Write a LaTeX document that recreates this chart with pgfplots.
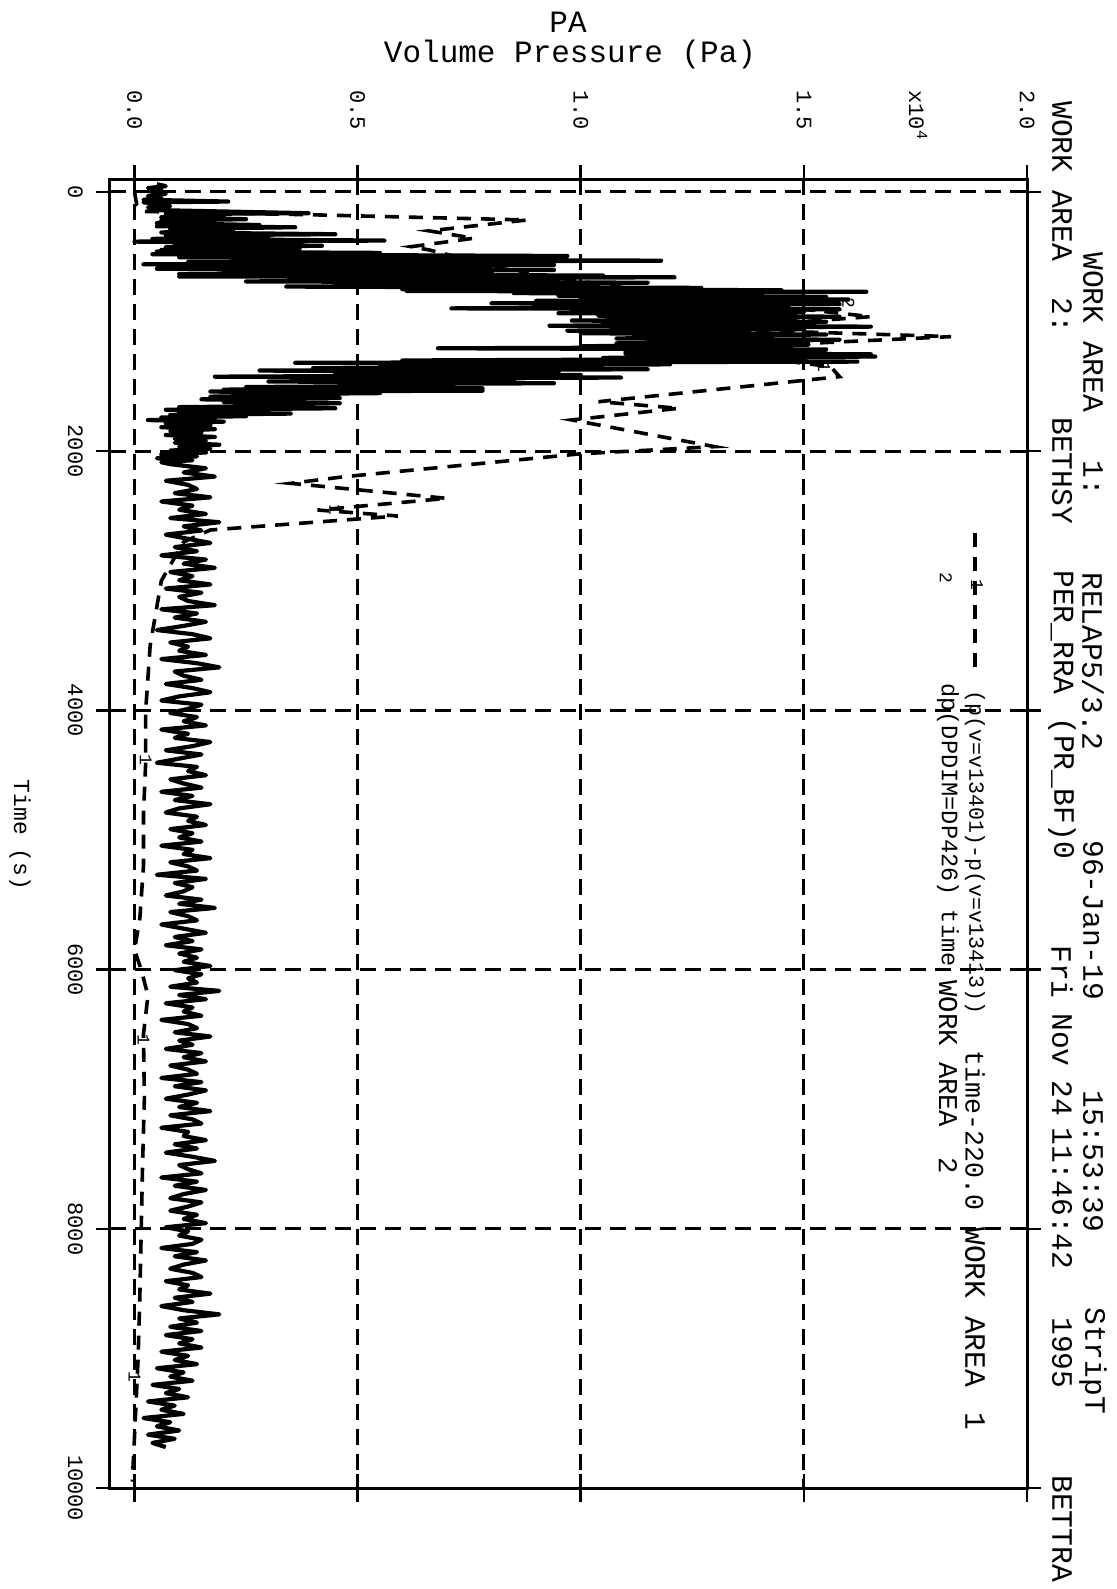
\documentclass[border=0pt]{standalone}
\usepackage{pgfplots}
\pgfplotsset{compat=1.18}
\usepackage{pgfplotstable}
\usepackage{fontspec}
\setmainfont{Liberation Mono}
\newcommand{\fs}[1]{\fontsize{#1}{#1}\selectfont}

% series 1: (p(v=v13401)-p(v=v13413)) time-220.0  (dashed)
\pgfplotstableread[row sep=\\]{
t p\\
0 0.00\\ 100 0.005\\ 150 0.02\\ 177 0.41\\ 216 0.88\\ 300 0.66\\ 357 0.76\\ 422 0.62\\ 447 0.66\\
550 0.78\\ 650 0.92\\ 750 1.12\\ 860 1.38\\ 962 1.65\\ 1000 1.50\\ 1065 1.36\\ 1116 1.83\\
1170 1.50\\ 1230 1.30\\ 1300 1.45\\ 1348 1.56\\ 1425 1.58\\ 1618 1.04\\ 1669 1.22\\ 1759 0.98\\
1965 1.30\\ 2020 1.00\\ 2197 0.47\\ 2248 0.35\\ 2364 0.70\\ 2454 0.41\\ 2500 0.59\\ 2608 0.17\\
2700 0.11\\ 3000 0.06\\ 3500 0.035\\ 4000 0.025\\ 4400 0.025\\ 4800 0.02\\ 5200 0.02\\ 5600 0.012\\
5850 0.0\\ 6000 0.015\\ 6200 0.03\\ 6500 0.02\\ 7000 0.022\\ 7500 0.018\\ 8000 0.015\\ 8500 0.012\\
9000 0.008\\ 9300 0.004\\ 9600 0.0\\ 9950 -0.005\\
}\seriesA

% series 2: dp(DPDIM=DP426) time  (solid)
\pgfplotstableread[row sep=\\]{
t p\\
-60 0.05\\ -45 0.07\\ -30 0.03\\ -15 0.06\\ 0 0.04\\ 15 0.07\\ 30 0.03\\ 45 0.06\\ 60 0.02\\ 74 0.21\\
80 0.02\\ 95 0.06\\ 110 0.08\\ 120 0.03\\ 140 0.05\\ 164 0.39\\ 170 0.07\\ 185 0.20\\ 195 0.06\\ 210 0.25\\
220 0.06\\ 229 0.18\\ 240 0.05\\ 255 0.28\\ 265 0.05\\ 272 0.36\\ 285 0.08\\ 300 0.22\\ 312 0.06\\ 326 0.45\\
335 0.07\\ 350 0.30\\ 362 0.04\\ 375 0.56\\ 383 0.00\\ 395 0.35\\ 405 0.09\\ 415 0.42\\ 427 0.07\\ 437 0.37\\
447 0.06\\ 455 0.22\\ 460 0.05\\ 470 0.55\\ 480 0.04\\ 494 0.97\\ 503 0.10\\ 512 0.75\\ 520 0.30\\ 530 1.18\\
540 0.12\\ 550 0.85\\ 558 0.02\\ 563 0.94\\ 572 0.15\\ 582 0.70\\ 592 0.05\\ 602 0.94\\ 612 0.20\\ 622 0.80\\
632 0.10\\ 645 1.05\\ 652 0.10\\ 658 1.21\\ 668 0.40\\ 680 0.95\\ 690 0.25\\ 700 1.15\\ 710 0.45\\ 720 1.00\\
730 0.34\\ 740 1.27\\ 750 0.60\\ 758 1.45\\ 764 0.61\\ 770 1.64\\ 780 0.85\\ 790 1.40\\ 800 0.95\\ 810 1.55\\
820 1.00\\ 830 1.60\\ 840 0.90\\ 850 1.50\\ 859 0.80\\ 865 1.58\\ 878 0.95\\ 888 1.45\\ 898 0.71\\ 905 1.58\\
915 1.05\\ 925 1.50\\ 935 0.95\\ 945 1.40\\ 955 1.04\\ 962 1.58\\ 972 1.10\\ 982 1.48\\ 992 0.98\\ 1002 1.55\\
1012 1.05\\ 1022 1.45\\ 1032 0.93\\ 1039 1.65\\ 1050 1.10\\ 1060 1.50\\ 1070 0.97\\ 1078 1.34\\ 1090 1.00\\ 1100 1.55\\
1110 1.12\\ 1120 1.40\\ 1130 1.08\\ 1140 1.58\\ 1150 1.15\\ 1160 1.45\\ 1168 1.08\\ 1178 1.51\\ 1190 1.00\\ 1198 1.40\\
1206 0.68\\ 1215 1.55\\ 1225 1.10\\ 1235 1.50\\ 1245 1.10\\ 1252 1.65\\ 1262 1.18\\ 1270 1.66\\ 1280 1.05\\ 1290 1.35\\
1300 0.60\\ 1309 1.62\\ 1318 0.36\\ 1330 1.20\\ 1340 0.55\\ 1350 1.00\\ 1360 0.40\\ 1368 1.15\\ 1378 0.28\\ 1390 0.95\\
1400 0.45\\ 1412 1.00\\ 1425 0.18\\ 1432 1.09\\ 1440 0.40\\ 1452 0.85\\ 1462 0.30\\ 1476 0.94\\ 1482 0.48\\ 1495 0.70\\
1505 0.25\\ 1515 0.78\\ 1525 0.20\\ 1533 0.78\\ 1540 0.17\\ 1552 0.55\\ 1562 0.22\\ 1570 0.45\\ 1579 0.17\\ 1590 0.46\\
1600 0.15\\ 1610 0.38\\ 1620 0.20\\ 1630 0.46\\ 1640 0.28\\ 1650 0.40\\ 1660 0.10\\ 1669 0.45\\ 1680 0.07\\ 1690 0.30\\
1700 0.10\\ 1710 0.35\\ 1720 0.08\\ 1730 0.25\\ 1740 0.06\\ 1750 0.18\\ 1760 0.03\\ 1772 0.20\\ 1785 0.07\\ 1800 0.17\\
1815 0.06\\ 1830 0.18\\ 1845 0.08\\ 1860 0.15\\ 1875 0.07\\ 1890 0.18\\ 1905 0.09\\ 1920 0.16\\ 1935 0.09\\ 1950 0.19\\
1965 0.10\\ 1980 0.17\\ 1995 0.08\\ 2010 0.16\\ 2025 0.06\\ 2040 0.14\\ 2055 0.05\\ 2070 0.13\\ 2085 0.06\\
2100 0.08\\ 2132 0.16\\ 2164 0.11\\ 2196 0.18\\ 2228 0.07\\ 2260 0.12\\ 2292 0.14\\ 2324 0.09\\ 2356 0.17\\ 2388 0.06\\
2420 0.13\\ 2452 0.10\\ 2484 0.16\\ 2516 0.08\\ 2548 0.19\\ 2580 0.11\\ 2612 0.15\\ 2644 0.07\\ 2676 0.12\\ 2708 0.17\\
2740 0.09\\ 2772 0.14\\ 2804 0.06\\ 2836 0.16\\ 2868 0.11\\ 2900 0.18\\ 2932 0.08\\ 2964 0.13\\ 2996 0.10\\ 3028 0.17\\
3060 0.07\\ 3092 0.15\\ 3124 0.10\\ 3156 0.12\\ 3188 0.18\\ 3220 0.06\\ 3252 0.14\\ 3284 0.09\\ 3316 0.16\\ 3348 0.11\\
3380 0.05\\ 3412 0.13\\ 3444 0.17\\ 3476 0.08\\ 3508 0.12\\ 3540 0.10\\ 3572 0.16\\ 3604 0.06\\ 3636 0.14\\ 3668 0.19\\
3700 0.09\\ 3732 0.11\\ 3764 0.15\\ 3796 0.07\\ 3828 0.13\\ 3860 0.17\\ 3892 0.10\\ 3924 0.06\\ 3956 0.15\\ 3988 0.12\\
4020 0.08\\ 4052 0.14\\ 4084 0.11\\ 4116 0.16\\ 4148 0.06\\ 4180 0.12\\ 4212 0.09\\ 4244 0.17\\ 4276 0.13\\ 4308 0.07\\
4340 0.15\\ 4372 0.10\\ 4404 0.05\\ 4436 0.14\\ 4468 0.12\\ 4500 0.16\\ 4532 0.08\\ 4564 0.11\\ 4596 0.15\\ 4628 0.06\\
4660 0.13\\ 4692 0.09\\ 4724 0.17\\ 4756 0.10\\ 4788 0.07\\ 4820 0.14\\ 4852 0.12\\ 4884 0.16\\ 4916 0.08\\ 4948 0.13\\
4980 0.10\\ 5012 0.15\\ 5044 0.06\\ 5076 0.13\\ 5108 0.11\\ 5140 0.17\\ 5172 0.08\\ 5204 0.12\\ 5236 0.14\\ 5268 0.05\\
5300 0.16\\ 5332 0.09\\ 5364 0.13\\ 5396 0.11\\ 5428 0.07\\ 5460 0.15\\ 5492 0.10\\ 5524 0.18\\ 5556 0.08\\ 5588 0.12\\
5620 0.14\\ 5652 0.06\\ 5684 0.11\\ 5716 0.16\\ 5748 0.09\\ 5780 0.13\\ 5812 0.07\\ 5844 0.15\\ 5876 0.10\\ 5908 0.14\\
5940 0.11\\ 5972 0.17\\ 6004 0.09\\ 6036 0.15\\ 6068 0.12\\ 6100 0.14\\ 6132 0.08\\ 6164 0.19\\ 6196 0.10\\ 6228 0.16\\
6260 0.07\\ 6292 0.13\\ 6324 0.11\\ 6356 0.15\\ 6388 0.06\\ 6420 0.12\\ 6452 0.14\\ 6484 0.09\\ 6516 0.17\\ 6548 0.10\\
6580 0.13\\ 6612 0.07\\ 6644 0.15\\ 6676 0.11\\ 6708 0.16\\ 6740 0.08\\ 6772 0.12\\ 6804 0.14\\ 6836 0.06\\ 6868 0.15\\
6900 0.09\\ 6932 0.16\\ 6964 0.12\\ 6996 0.07\\ 7028 0.14\\ 7060 0.10\\ 7092 0.17\\ 7124 0.08\\ 7156 0.13\\ 7188 0.15\\
7220 0.06\\ 7252 0.12\\ 7284 0.11\\ 7316 0.16\\ 7348 0.09\\ 7380 0.14\\ 7412 0.07\\ 7444 0.13\\ 7476 0.18\\ 7508 0.10\\
7540 0.12\\ 7572 0.15\\ 7604 0.06\\ 7636 0.14\\ 7668 0.09\\ 7700 0.16\\ 7732 0.11\\ 7764 0.08\\ 7796 0.15\\ 7828 0.12\\
7860 0.08\\ 7892 0.14\\ 7924 0.11\\ 7956 0.16\\ 7988 0.07\\ 8020 0.12\\ 8052 0.10\\ 8084 0.15\\ 8116 0.13\\ 8148 0.06\\
8180 0.14\\ 8212 0.09\\ 8244 0.16\\ 8276 0.11\\ 8308 0.08\\ 8340 0.13\\ 8372 0.15\\ 8404 0.07\\ 8436 0.12\\ 8468 0.10\\
8500 0.17\\ 8532 0.09\\ 8564 0.13\\ 8596 0.06\\ 8628 0.11\\ 8660 0.19\\ 8692 0.10\\ 8724 0.14\\ 8756 0.08\\ 8788 0.15\\
8820 0.07\\ 8852 0.13\\ 8884 0.10\\ 8916 0.15\\ 8948 0.06\\ 8980 0.12\\ 9012 0.09\\ 9044 0.14\\ 9076 0.05\\ 9108 0.11\\
9140 0.08\\ 9172 0.13\\ 9204 0.04\\ 9236 0.10\\ 9268 0.07\\ 9300 0.12\\ 9332 0.03\\ 9364 0.09\\ 9396 0.06\\ 9428 0.11\\
9460 0.02\\ 9492 0.08\\ 9524 0.05\\ 9556 0.10\\ 9588 0.03\\ 9620 0.09\\ 9652 0.04\\ 9684 0.07\\
}\seriesB

\begin{document}
\begin{tikzpicture}
\path (0,0) rectangle (558.5pt,-794.5pt);
\begin{axis}[
  at={(55pt,-744pt)}, anchor=south west,
  scale only axis, width=458.5pt, height=654.5pt,
  xmin=-0.055, xmax=2, ymin=-100, ymax=10000, y dir=reverse,
  xtick={0,0.5,1,1.5,2}, xticklabels={0.0,0.5,1.0,1.5,2.0},
  ytick={0,2000,4000,6000,8000,10000},
  yticklabels={0,2000,4000,6000,8000,10000},
  scaled ticks=false,
  tick align=center, major tick length=14pt,
  tick style={line width=1.3pt, black},
  axis line style={line width=1.5pt},
  grid=major,
  major grid style={line width=1.5pt, dash pattern=on 8pt off 4.5pt, black},
  ticklabel style={font=\fs{11}},
  xticklabel pos=right,
  xticklabel style={rotate=-90, anchor=east},
  yticklabel style={rotate=-90, anchor=north},
  xticklabel shift=14pt, yticklabel shift=3pt,
]
\addplot[black, line width=2.1pt, line join=round] table[x=p, y=t] {\seriesB};
\addplot[black, line width=1.8pt, dash pattern=on 7pt off 5pt] table[x=p, y=t] {\seriesA};
\addplot[only marks, mark=text, text mark={1}, text mark as node=true,
  text mark style={font=\fs{9}, rotate=-90}]
  coordinates {(1.545,1347) (0.45,2454) (0.025,4383) (0.02,6543) (0.0,9143)};
\addplot[only marks, mark=text, text mark={2}, text mark as node=true,
  text mark style={font=\fs{9}, rotate=-90}]
  coordinates {(1.60,859)};
\end{axis}
\begin{scope}[x=0.5pt, y=-0.5pt]
\node[font=\fs{15.5}] at (568,22) {PA};
\node[font=\fs{15.5}] at (570,54) {Volume Pressure (Pa)};
\node[font=\fs{11}, rotate=-90, anchor=west, inner sep=0pt] at (918,90) {x10\textsuperscript{4}};
\node[font=\fs{11.5}, rotate=-90] at (20,835) {Time (s)};
% header line 1
\begin{scope}[every node/.style={font=\fs{14.8}, rotate=-90, anchor=west, inner sep=0pt}]
\node at (1093,252) {WORK AREA};
\node at (1093,460) {1:};
\node at (1093,572) {RELAP5/3.2};
\node at (1093,840) {96-Jan-19};
\node at (1093,1090) {15:53:39};
\node at (1093,1307) {StripT};
% header line 2
\node at (1062,101) {WORK AREA};
\node at (1062,297) {2:};
\node at (1062,417) {BETHSY};
\node at (1062,570) {PER\_RRA};
\node at (1062,717) {(PR\_BF)0};
\node at (1062,945) {Fri};
\node at (1062,1013) {Nov};
\node at (1062,1080) {24};
\node at (1062,1127) {11:46:42};
\node at (1062,1317) {1995};
\node at (1062,1475) {BETTRA};
\end{scope}
% legend
\draw[black, line width=1.7pt, dash pattern=on 7pt off 5pt] (975,533) -- (975,672);
\node[font=\fs{9}, rotate=-90] at (977,585) {1};
\node[font=\fs{9}, rotate=-90] at (946,578) {2};
\begin{scope}[every node/.style={rotate=-90, anchor=west, inner sep=0pt}]
\node[font=\fs{10.8}] at (975,690) {(p(v=v13401)-p(v=v13413))};
\node[font=\fs{13.3}] at (975,1050) {time-220.0};
\node[font=\fs{14.8}] at (975,1227) {WORK AREA};
\node[font=\fs{14.8}] at (975,1412) {1};
\node[font=\fs{11.8}] at (948,683) {dp(DPDIM=DP426) time};
\node[font=\fs{13.6}] at (948,980) {WORK AREA};
\node[font=\fs{13.6}] at (948,1157) {2};
\end{scope}
\end{scope}
\end{tikzpicture}
\end{document}
